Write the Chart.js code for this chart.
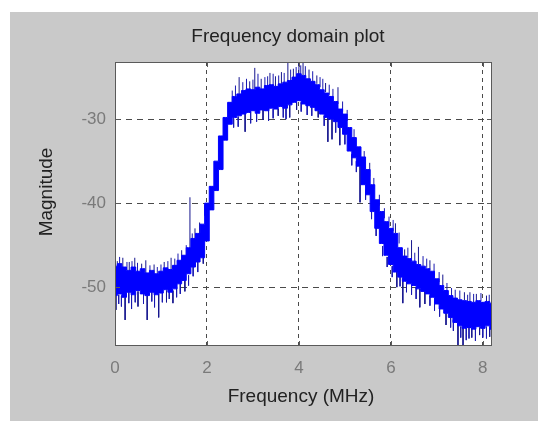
<!DOCTYPE html>
<html>
<head>
<meta charset="utf-8">
<title>Frequency domain plot</title>
<script src="https://cdn.jsdelivr.net/npm/chart.js@4.4.1/dist/chart.umd.min.js"></script>
<style>
    html, body { margin: 0; padding: 0; background: #ffffff; }
    #wrap { position: absolute; left: 10px; top: 12px; width: 528px; height: 409px; background: #c9c9c9; }
</style>
</head>
<body>
<div id="wrap"><canvas id="freqChart"></canvas></div>
<script>
// band of the spectrum, read every 0.1 MHz (upper and lower edge, dB)
var freqMHz = [0.0, 0.1, 0.2, 0.3, 0.4, 0.5, 0.6, 0.7, 0.8, 0.9,
    1.0, 1.1, 1.2, 1.3, 1.4, 1.5, 1.6, 1.7, 1.8, 1.9,
    2.0, 2.1, 2.2, 2.3, 2.4, 2.5, 2.6, 2.7, 2.8, 2.9,
    3.0, 3.1, 3.2, 3.3, 3.4, 3.5, 3.6, 3.7, 3.8, 3.9,
    4.0, 4.1, 4.2, 4.3, 4.4, 4.5, 4.6, 4.7, 4.8, 4.9,
    5.0, 5.1, 5.2, 5.3, 5.4, 5.5, 5.6, 5.7, 5.8, 5.9,
    6.0, 6.1, 6.2, 6.3, 6.4, 6.5, 6.6, 6.7, 6.8, 6.9,
    7.0, 7.1, 7.2, 7.3, 7.4, 7.5, 7.6, 7.7, 7.8, 7.9,
    8.0, 8.1, 8.2];
var upperDb = [-47.5, -47.2, -47.6, -48.0, -47.6, -48.1, -47.8, -48.3, -48.0, -48.4,
    -48.1, -47.7, -47.9, -47.4, -46.8, -46.2, -45.3, -44.2, -43.6, -42.5,
    -40.0, -38.0, -35.0, -32.0, -29.8, -28.0, -27.3, -27.0, -26.6, -26.4,
    -26.5, -26.2, -26.4, -26.0, -25.9, -26.1, -25.8, -25.6, -25.4, -25.0,
    -24.6, -24.8, -25.2, -25.5, -25.9, -26.5, -26.9, -27.3, -27.9, -28.8,
    -29.4, -31.0, -32.2, -33.3, -34.5, -36.0, -37.8, -39.6, -41.0, -42.2,
    -43.0, -43.6, -45.3, -46.3, -46.6, -46.9, -47.3, -47.5, -47.8, -48.1,
    -49.0, -49.8, -50.4, -51.0, -51.3, -51.5, -51.6, -51.7, -51.8, -51.6,
    -51.8, -51.7, -51.9];
var lowerDb = [-51.0, -50.8, -51.2, -50.6, -50.9, -50.4, -50.8, -51.0, -50.6, -50.9,
    -50.7, -50.3, -50.6, -50.2, -49.6, -49.2, -48.4, -47.6, -47.0, -46.5,
    -44.5, -40.8, -38.5, -36.0, -32.5, -30.6, -29.8, -29.6, -29.4, -29.2,
    -29.0, -29.3, -28.9, -29.0, -28.7, -28.8, -28.5, -28.7, -28.3, -28.0,
    -27.8, -28.2, -28.4, -28.6, -29.0, -29.4, -29.8, -30.0, -30.3, -31.0,
    -31.8, -33.8, -34.6, -35.6, -37.8, -39.0, -41.0, -43.0, -44.8, -46.2,
    -47.3, -48.2, -48.8, -49.3, -49.6, -49.8, -50.2, -50.5, -50.8, -51.2,
    -52.0, -52.6, -53.1, -53.6, -54.2, -54.6, -54.9, -54.8, -55.0, -54.7,
    -54.9, -54.6, -55.0];

// long noise spikes sticking out of the band
var spikeX = [0.05, 0.17, 0.31, 0.43, 0.58, 0.67, 0.85, 1.07, 1.22, 1.45, 1.63, 1.74, 1.84,
    2.70, 2.93, 3.04, 3.18, 3.37, 3.49, 3.62, 3.76, 3.88, 4.09, 4.22, 4.39, 4.58, 4.85,
    5.54, 6.10, 6.30, 6.45, 6.60, 6.85, 7.13, 7.60, 7.72, 7.86, 8.08,
    0.02, 0.22, 0.50, 0.70, 0.95, 1.12, 1.26, 1.52, 1.92, 2.83, 3.22, 3.55, 3.80, 3.95,
    4.42, 4.63, 4.72, 4.89, 5.33, 6.13, 6.26, 6.63, 6.74, 7.20, 7.46, 7.57, 7.76, 7.93, 8.15];
var spikeBase = [-48.0, -48.0, -48.5, -48.0, -48.5, -48.5, -48.5, -48.2, -48.0, -47.0, -45.5, -44.5, -43.8,
    -27.2, -26.6, -26.5, -26.4, -26.0, -26.1, -25.8, -25.5, -25.2, -24.8, -25.3, -25.8, -26.8, -28.2,
    -36.8, -43.6, -46.3, -46.7, -47.3, -47.9, -50.0, -51.6, -51.7, -51.7, -51.7,
    -51.0, -51.2, -50.5, -51.0, -50.8, -50.4, -50.4, -49.2, -46.0, -29.4, -28.9, -28.8, -28.3, -28.0,
    -29.0, -29.8, -30.0, -31.0, -35.6, -48.2, -49.0, -50.2, -50.5, -53.1, -54.4, -54.8, -54.9, -54.8, -54.8];
var spikeTip = [-46.9, -46.5, -47.0, -46.5, -47.2, -46.8, -47.3, -47.0, -46.5, -45.6, -39.3, -43.0, -42.3,
    -25.0, -25.5, -23.9, -25.2, -24.5, -24.9, -24.4, -23.2, -24.0, -23.0, -24.1, -24.8, -25.7, -26.2,
    -35.2, -42.4, -45.5, -44.4, -45.2, -46.8, -48.5, -50.6, -50.6, -50.8, -51.0,
    -52.7, -53.9, -52.3, -53.9, -53.6, -51.8, -51.9, -50.5, -47.2, -31.5, -30.1, -29.6, -29.8, -28.9,
    -29.8, -32.7, -32.4, -33.1, -39.9, -50.0, -51.9, -52.4, -52.0, -54.5, -57.0, -57.0, -56.0, -55.7, -55.9];

// short ripples along both edges of the band
var rippleX = [0.10, 0.26, 0.37, 0.49, 0.76, 0.92, 1.00, 1.15, 1.30, 1.37, 1.55, 1.68, 1.95,
    2.55, 2.62, 2.78, 2.86, 3.00, 3.11, 3.26, 3.32, 3.44, 3.56, 3.68, 3.82, 3.94, 4.00, 4.04,
    4.14, 4.30, 4.46, 4.52, 4.66, 4.74, 4.95, 5.05, 5.20, 5.42, 5.63, 5.75, 5.86, 5.96,
    6.05, 6.18, 6.37, 6.52, 6.70, 6.78, 6.94, 7.05, 7.22, 7.32, 7.40, 7.50, 7.67, 7.80, 7.96, 8.14,
    0.08, 0.14, 0.30, 0.36, 0.44, 0.62, 0.80, 0.86, 1.03, 1.18, 1.34, 1.42, 1.60, 1.70, 1.80,
    2.58, 2.68, 2.95, 3.08, 3.34, 3.44, 3.66, 3.72, 4.05, 4.18, 4.28, 4.55, 4.80, 5.00, 5.15,
    5.25, 5.45, 5.58, 5.68, 5.82, 5.92, 6.03, 6.20, 6.34, 6.45, 6.55, 6.85, 6.95, 7.06, 7.30,
    7.36, 7.52, 7.64, 7.70, 7.84, 8.00, 8.08, 8.19];
var rippleBase = [-47.5, -48.0, -48.0, -48.2, -48.4, -48.5, -48.3, -48.0, -47.6, -47.2, -46.3, -44.8, -41.5,
    -28.0, -27.5, -27.0, -26.7, -26.6, -26.4, -26.3, -26.1, -26.0, -26.0, -25.7, -25.4, -25.0, -24.8, -24.8,
    -25.0, -25.6, -26.2, -26.5, -27.1, -27.5, -29.1, -30.2, -32.3, -34.9, -38.3, -40.3, -41.8, -42.8,
    -43.3, -44.8, -46.5, -47.0, -47.5, -47.7, -48.5, -49.4, -50.6, -51.1, -51.3, -51.5, -51.7, -51.8, -51.7, -51.8,
    -50.9, -51.0, -50.6, -50.8, -50.9, -50.8, -50.6, -50.8, -50.6, -50.5, -50.0, -49.5, -48.6, -47.6, -47.0,
    -29.9, -29.7, -29.1, -29.2, -29.0, -28.8, -28.6, -28.7, -28.0, -28.3, -28.5, -29.6, -30.3, -31.8, -34.2,
    -35.0, -38.4, -40.6, -42.6, -45.1, -46.4, -47.5, -48.7, -49.4, -49.7, -50.0, -51.0, -51.5, -52.3, -53.6,
    -53.9, -54.7, -54.9, -54.8, -54.9, -54.9, -54.7, -55.0];
var rippleTip = [-46.4, -47.0, -46.9, -47.1, -47.4, -47.6, -47.3, -46.9, -46.6, -46.0, -45.0, -43.6, -40.2,
    -26.6, -26.0, -25.6, -25.2, -25.3, -24.6, -25.0, -24.9, -24.6, -24.8, -24.5, -24.1, -23.8, -23.4, -23.6,
    -23.7, -24.3, -25.0, -25.2, -25.9, -26.4, -27.9, -28.9, -31.2, -33.8, -37.0, -39.0, -40.6, -41.6,
    -42.0, -43.5, -45.3, -45.9, -46.3, -46.6, -47.2, -48.2, -49.5, -50.1, -50.3, -50.4, -50.9, -50.8, -50.7, -50.9,
    -52.0, -52.3, -51.9, -52.6, -51.8, -52.0, -51.7, -52.4, -51.8, -51.4, -51.2, -50.8, -49.8, -48.7, -48.2,
    -31.0, -30.9, -30.5, -30.3, -30.2, -29.9, -29.8, -30.0, -29.1, -29.5, -29.6, -30.8, -31.6, -33.0, -35.5,
    -36.3, -39.6, -41.9, -43.9, -46.3, -47.6, -48.8, -49.9, -50.6, -50.9, -51.4, -52.2, -52.8, -53.5, -54.8,
    -55.2, -56.0, -56.3, -56.1, -56.4, -56.0, -56.1, -56.3];

var xTicks = [0, 2, 4, 6, 8];
var yTicks = [-50, -40, -30];

var upperPoints = freqMHz.map(function (f, i) { return { x: f, y: upperDb[i] }; });
var lowerPoints = freqMHz.map(function (f, i) { return { x: f, y: lowerDb[i] }; });

function verticalSegments(xs, from, to) {
    var pts = [];
    xs.forEach(function (f, i) {
        pts.push({ x: f, y: from[i] }, { x: f, y: to[i] }, { x: f, y: null });
    });
    return pts;
}
var spikePoints = verticalSegments(spikeX, spikeBase, spikeTip);
var ripplePoints = verticalSegments(rippleX, rippleBase, rippleTip);

var fontFace = '"Liberation Sans", Arial, sans-serif';

// white axes area, box with inward ticks, title and axis labels
var matlabAxes = {
    id: 'matlabAxes',
    beforeDraw: function (chart) {
        var a = chart.chartArea, ctx = chart.ctx;
        ctx.save();
        ctx.fillStyle = '#ffffff';
        ctx.fillRect(a.left, a.top, a.right - a.left, a.bottom - a.top);
        ctx.restore();
    },
    afterDraw: function (chart) {
        var a = chart.chartArea, ctx = chart.ctx;
        var xs = chart.scales.x, ys = chart.scales.y;
        ctx.save();
        ctx.strokeStyle = '#5a5a5a';
        ctx.lineWidth = 1;
        ctx.strokeRect(a.left + 0.5, a.top + 0.5, a.right - a.left - 1, a.bottom - a.top - 1);
        ctx.beginPath();
        xTicks.forEach(function (v) {
            var px = Math.round(xs.getPixelForValue(v)) + 0.5;
            ctx.moveTo(px, a.bottom); ctx.lineTo(px, a.bottom - 5);
            ctx.moveTo(px, a.top); ctx.lineTo(px, a.top + 5);
        });
        yTicks.forEach(function (v) {
            var py = Math.round(ys.getPixelForValue(v)) + 0.5;
            ctx.moveTo(a.left, py); ctx.lineTo(a.left + 5, py);
            ctx.moveTo(a.right, py); ctx.lineTo(a.right - 5, py);
        });
        ctx.stroke();

        ctx.fillStyle = '#222222';
        ctx.font = '19px ' + fontFace;
        ctx.textAlign = 'center';
        ctx.textBaseline = 'middle';
        ctx.fillText('Frequency domain plot', 278, 25);
        ctx.fillText('Frequency (MHz)', 291, 385);
        ctx.translate(37, 180);
        ctx.rotate(-Math.PI / 2);
        ctx.fillText('Magnitude', 0, 0);
        ctx.restore();
    }
};

var ctx = document.getElementById('freqChart').getContext('2d');
new Chart(ctx, {
    type: 'line',
    data: {
        datasets: [{
            label: 'upper',
            data: upperPoints,
            borderColor: '#0000ff',
            backgroundColor: '#0000ff',
            borderWidth: 1,
            stepped: 'middle',
            fill: '+1'
        }, {
            label: 'lower',
            data: lowerPoints,
            borderColor: '#0000ff',
            borderWidth: 1,
            stepped: 'middle',
            fill: false
        }, {
            label: 'ripple',
            data: ripplePoints,
            borderColor: '#1a1ab0',
            borderWidth: 1,
            fill: false,
            spanGaps: false
        }, {
            label: 'spikes',
            data: spikePoints,
            borderColor: '#16168e',
            borderWidth: 1,
            fill: false,
            spanGaps: false
        }]
    },
    options: {
        responsive: true,
        maintainAspectRatio: false,
        animation: false,
        layout: { padding: { top: 50, right: 46, left: 0, bottom: 0 } },
        elements: { point: { radius: 0 }, line: { tension: 0 } },
        plugins: {
            legend: { display: false },
            tooltip: { enabled: false }
        },
        scales: {
            x: {
                type: 'linear',
                min: 0,
                max: 8.2,
                afterBuildTicks: function (scale) {
                    scale.ticks = xTicks.map(function (v) { return { value: v }; });
                },
                afterFit: function (scale) { scale.height = 75; },
                grid: { color: '#4a4a4a', lineWidth: 1, drawTicks: false },
                border: { display: false, dash: [4, 4] },
                ticks: { color: '#7a7a7a', padding: 12, maxRotation: 0, font: { size: 17, family: fontFace } }
            },
            y: {
                type: 'linear',
                min: -57,
                max: -23.2,
                afterBuildTicks: function (scale) {
                    scale.ticks = yTicks.map(function (v) { return { value: v }; });
                },
                afterFit: function (scale) { scale.width = 105; },
                grid: { color: '#4a4a4a', lineWidth: 1, drawTicks: false },
                border: { display: false, dash: [6, 5] },
                ticks: { color: '#7a7a7a', padding: 9, font: { size: 17, family: fontFace } }
            }
        }
    },
    plugins: [matlabAxes]
});
</script>
</body>
</html>
